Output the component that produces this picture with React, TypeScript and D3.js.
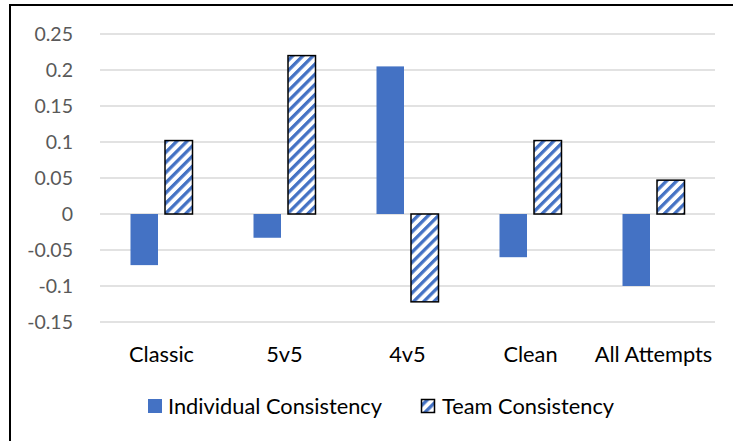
import React from "react";
import * as d3 from "d3";

const categories = ["Classic", "5v5", "4v5", "Clean", "All Attempts"];
const individualValues = [-0.071, -0.033, 0.205, -0.06, -0.1];
const teamValues = [0.102, 0.22, -0.122, 0.102, 0.047];
const yTicks = [-0.15, -0.1, -0.05, 0, 0.05, 0.1, 0.15, 0.2, 0.25];
const seriesNames = ["Individual Consistency", "Team Consistency"];

const W = 733;
const H = 441;
const BLUE = "#4472C4";
const FONT = "Lato, 'Open Sans', sans-serif";

export default function App() {
  const x = d3.scaleBand<string>().domain(categories).range([100, 715]).paddingInner(0).paddingOuter(0);
  const y = d3.scaleLinear().domain([-0.15, 0.25]).range([322, 34]);
  const barW = 27.5;
  const gap = 7;
  const fmt = (v: number) => (v === 0 ? "0" : String(+v.toFixed(2)));

  return (
    <svg width={W} height={H} style={{ position: "absolute", left: 0, top: 0, background: "#fff" }}>
      <defs>
        <pattern id="diag" patternUnits="userSpaceOnUse" width="7.2" height="7.2" patternTransform="rotate(45)">
          <rect x="0" y="0" width="7.2" height="7.2" fill="#fff" />
          <rect x="0" y="0" width="3.3" height="7.2" fill={BLUE} />
        </pattern>
      </defs>
      <rect x={0} y={0} width={W} height={H} fill="#fff" />
      <rect x={10} y={5} width={W + 20} height={H + 20} fill="none" stroke="#000" strokeWidth={2} />
      {yTicks.map((t) => (
        <g key={t}>
          <line x1={100} x2={715} y1={y(t)} y2={y(t)} stroke="#d9d9d9" strokeWidth={1.3} />
          <text x={73} y={y(t)} dy="0.35em" textAnchor="end" fontFamily={FONT} fontSize={19.5} fill="#595959">
            {fmt(t)}
          </text>
        </g>
      ))}
      {categories.map((c, i) => {
        const cx = (x(c) as number) + x.bandwidth() / 2;
        const iv = individualValues[i];
        const tv = teamValues[i];
        return (
          <g key={c}>
            <rect
              x={cx - gap / 2 - barW}
              y={Math.min(y(iv), y(0))}
              width={barW}
              height={Math.abs(y(iv) - y(0))}
              fill={BLUE}
            />
            <rect
              x={cx + gap / 2}
              y={Math.min(y(tv), y(0))}
              width={barW}
              height={Math.abs(y(tv) - y(0))}
              fill="url(#diag)"
              stroke="#000"
              strokeWidth={1.5}
            />
            <text x={cx} y={362} textAnchor="middle" fontFamily={FONT} fontSize={21.8} fill="#000">
              {c}
            </text>
          </g>
        );
      })}
      <g>
        <rect x={148} y={399} width={14} height={14} fill={BLUE} />
        <text x={168} y={414} fontFamily={FONT} fontSize={21.8} fill="#000">
          {seriesNames[0]}
        </text>
        <rect x={421.5} y={399.5} width={13} height={13} fill="url(#diag)" stroke="#000" strokeWidth={1.5} />
        <text x={442} y={414} fontFamily={FONT} fontSize={21.8} fill="#000">
          {seriesNames[1]}
        </text>
      </g>
    </svg>
  );
}
